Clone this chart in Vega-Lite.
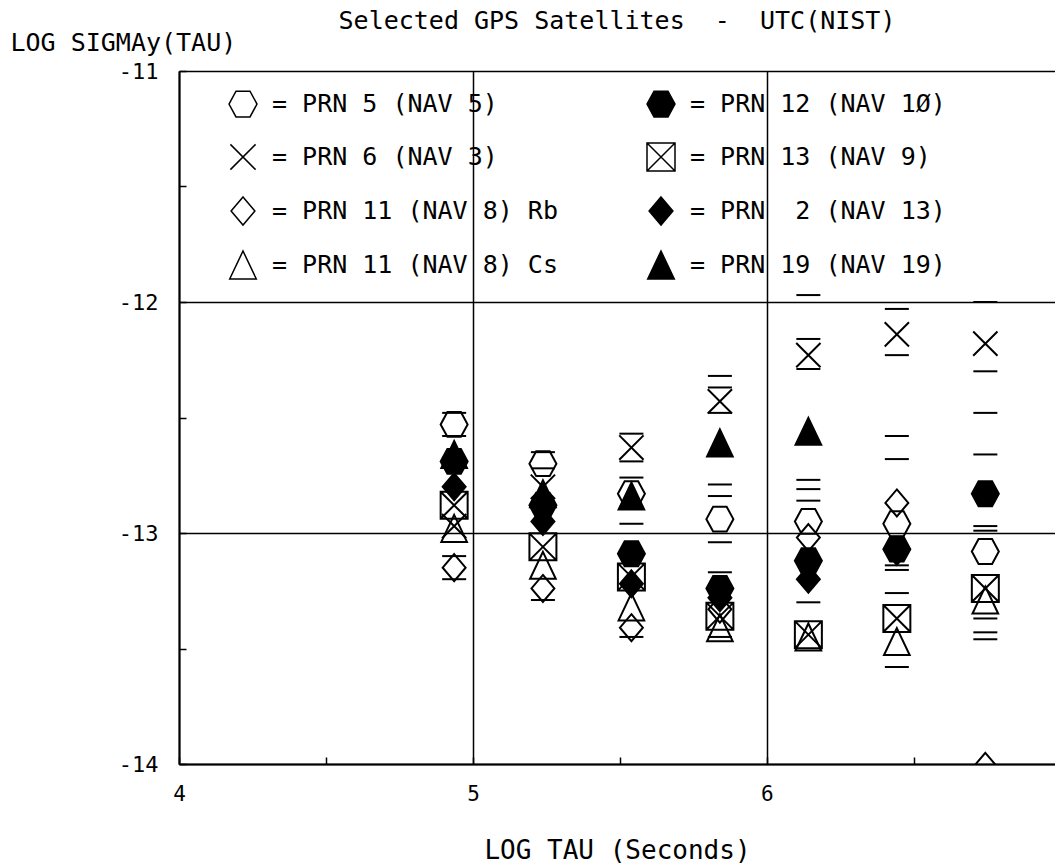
{
  "$schema": "https://vega.github.io/schema/vega-lite/v6.json",
  "width": 876,
  "height": 693,
  "autosize": {"type": "none"},
  "padding": {"left": 179, "top": 71, "right": 0, "bottom": 99},
  "background": "white",
  "title": {
    "text": "Selected GPS Satellites \u00a0-\u00a0 UTC(NIST)",
    "font": "DejaVu Sans Mono",
    "fontSize": 25,
    "fontWeight": "normal",
    "color": "black",
    "anchor": "middle",
    "offset": -4
  },
  "config": {
    "view": {"stroke": null},
    "font": "DejaVu Sans Mono"
  },
  "datasets": {
    "points": [
      {"tau": 4.936, "sigma": -12.53, "sat": "= PRN 5 (NAV 5)"},
      {"tau": 5.238, "sigma": -12.70, "sat": "= PRN 5 (NAV 5)"},
      {"tau": 5.539, "sigma": -12.83, "sat": "= PRN 5 (NAV 5)"},
      {"tau": 5.840, "sigma": -12.94, "sat": "= PRN 5 (NAV 5)"},
      {"tau": 6.141, "sigma": -12.95, "sat": "= PRN 5 (NAV 5)"},
      {"tau": 6.442, "sigma": -12.96, "sat": "= PRN 5 (NAV 5)"},
      {"tau": 6.743, "sigma": -13.08, "sat": "= PRN 5 (NAV 5)"},
      {"tau": 4.936, "sigma": -12.97, "sat": "= PRN 6 (NAV 3)"},
      {"tau": 5.238, "sigma": -12.80, "sat": "= PRN 6 (NAV 3)"},
      {"tau": 5.539, "sigma": -12.63, "sat": "= PRN 6 (NAV 3)"},
      {"tau": 5.840, "sigma": -12.43, "sat": "= PRN 6 (NAV 3)"},
      {"tau": 6.141, "sigma": -12.23, "sat": "= PRN 6 (NAV 3)"},
      {"tau": 6.442, "sigma": -12.14, "sat": "= PRN 6 (NAV 3)"},
      {"tau": 6.743, "sigma": -12.18, "sat": "= PRN 6 (NAV 3)"},
      {"tau": 4.936, "sigma": -13.15, "sat": "= PRN 11 (NAV 8) Rb"},
      {"tau": 5.238, "sigma": -13.24, "sat": "= PRN 11 (NAV 8) Rb"},
      {"tau": 5.539, "sigma": -13.41, "sat": "= PRN 11 (NAV 8) Rb"},
      {"tau": 5.840, "sigma": -13.33, "sat": "= PRN 11 (NAV 8) Rb"},
      {"tau": 6.141, "sigma": -13.02, "sat": "= PRN 11 (NAV 8) Rb"},
      {"tau": 6.442, "sigma": -12.87, "sat": "= PRN 11 (NAV 8) Rb"},
      {"tau": 6.743, "sigma": -14.01, "sat": "= PRN 11 (NAV 8) Rb"},
      {"tau": 4.936, "sigma": -12.98, "sat": "= PRN 11 (NAV 8) Cs"},
      {"tau": 5.238, "sigma": -13.14, "sat": "= PRN 11 (NAV 8) Cs"},
      {"tau": 5.539, "sigma": -13.32, "sat": "= PRN 11 (NAV 8) Cs"},
      {"tau": 5.840, "sigma": -13.41, "sat": "= PRN 11 (NAV 8) Cs"},
      {"tau": 6.141, "sigma": -13.45, "sat": "= PRN 11 (NAV 8) Cs"},
      {"tau": 6.442, "sigma": -13.47, "sat": "= PRN 11 (NAV 8) Cs"},
      {"tau": 6.743, "sigma": -13.29, "sat": "= PRN 11 (NAV 8) Cs"},
      {"tau": 4.936, "sigma": -12.69, "sat": "= PRN 12 (NAV 1Ø)"},
      {"tau": 5.238, "sigma": -12.88, "sat": "= PRN 12 (NAV 1Ø)"},
      {"tau": 5.539, "sigma": -13.09, "sat": "= PRN 12 (NAV 1Ø)"},
      {"tau": 5.840, "sigma": -13.24, "sat": "= PRN 12 (NAV 1Ø)"},
      {"tau": 6.141, "sigma": -13.12, "sat": "= PRN 12 (NAV 1Ø)"},
      {"tau": 6.442, "sigma": -13.07, "sat": "= PRN 12 (NAV 1Ø)"},
      {"tau": 6.743, "sigma": -12.83, "sat": "= PRN 12 (NAV 1Ø)"},
      {"tau": 4.936, "sigma": -12.88, "sat": "= PRN 13 (NAV 9)"},
      {"tau": 5.238, "sigma": -13.06, "sat": "= PRN 13 (NAV 9)"},
      {"tau": 5.539, "sigma": -13.19, "sat": "= PRN 13 (NAV 9)"},
      {"tau": 5.840, "sigma": -13.36, "sat": "= PRN 13 (NAV 9)"},
      {"tau": 6.141, "sigma": -13.44, "sat": "= PRN 13 (NAV 9)"},
      {"tau": 6.442, "sigma": -13.37, "sat": "= PRN 13 (NAV 9)"},
      {"tau": 6.743, "sigma": -13.24, "sat": "= PRN 13 (NAV 9)"},
      {"tau": 4.936, "sigma": -12.80, "sat": "= PRN \u00a02 (NAV 13)"},
      {"tau": 5.238, "sigma": -12.95, "sat": "= PRN \u00a02 (NAV 13)"},
      {"tau": 5.539, "sigma": -13.22, "sat": "= PRN \u00a02 (NAV 13)"},
      {"tau": 5.840, "sigma": -13.28, "sat": "= PRN \u00a02 (NAV 13)"},
      {"tau": 6.141, "sigma": -13.20, "sat": "= PRN \u00a02 (NAV 13)"},
      {"tau": 6.442, "sigma": -13.08, "sat": "= PRN \u00a02 (NAV 13)"},
      {"tau": 4.936, "sigma": -12.66, "sat": "= PRN 19 (NAV 19)"},
      {"tau": 5.238, "sigma": -12.83, "sat": "= PRN 19 (NAV 19)"},
      {"tau": 5.539, "sigma": -12.84, "sat": "= PRN 19 (NAV 19)"},
      {"tau": 5.840, "sigma": -12.61, "sat": "= PRN 19 (NAV 19)"},
      {"tau": 6.141, "sigma": -12.56, "sat": "= PRN 19 (NAV 19)"}
    ],
    "errbars": [
      {"tau": 4.936, "sigma": -12.48}, {"tau": 4.936, "sigma": -12.58},
      {"tau": 4.936, "sigma": -13.10}, {"tau": 4.936, "sigma": -13.20},
      {"tau": 5.238, "sigma": -12.65}, {"tau": 5.238, "sigma": -12.72},
      {"tau": 5.238, "sigma": -13.29},
      {"tau": 5.539, "sigma": -12.57}, {"tau": 5.539, "sigma": -12.69},
      {"tau": 5.539, "sigma": -12.76}, {"tau": 5.539, "sigma": -12.96},
      {"tau": 5.539, "sigma": -13.45},
      {"tau": 5.840, "sigma": -12.32}, {"tau": 5.840, "sigma": -12.37},
      {"tau": 5.840, "sigma": -12.48}, {"tau": 5.840, "sigma": -12.79},
      {"tau": 5.840, "sigma": -12.84}, {"tau": 5.840, "sigma": -13.04},
      {"tau": 5.840, "sigma": -13.17}, {"tau": 5.840, "sigma": -13.45},
      {"tau": 6.141, "sigma": -11.97}, {"tau": 6.141, "sigma": -12.16},
      {"tau": 6.141, "sigma": -12.29}, {"tau": 6.141, "sigma": -12.77},
      {"tau": 6.141, "sigma": -12.81}, {"tau": 6.141, "sigma": -12.86},
      {"tau": 6.141, "sigma": -13.30},
      {"tau": 6.442, "sigma": -12.03}, {"tau": 6.442, "sigma": -12.23},
      {"tau": 6.442, "sigma": -12.58}, {"tau": 6.442, "sigma": -12.68},
      {"tau": 6.442, "sigma": -13.14}, {"tau": 6.442, "sigma": -13.16},
      {"tau": 6.442, "sigma": -13.26}, {"tau": 6.442, "sigma": -13.58},
      {"tau": 6.743, "sigma": -12.00}, {"tau": 6.743, "sigma": -12.30},
      {"tau": 6.743, "sigma": -12.48}, {"tau": 6.743, "sigma": -12.66},
      {"tau": 6.743, "sigma": -12.97}, {"tau": 6.743, "sigma": -12.99},
      {"tau": 6.743, "sigma": -13.37}, {"tau": 6.743, "sigma": -13.43},
      {"tau": 6.743, "sigma": -13.46}
    ]
  },
  "encoding": {
    "x": {
      "field": "tau",
      "type": "quantitative",
      "scale": {"domain": [4, 6.98], "nice": false, "zero": false},
      "axis": {
        "title": "LOG TAU (Seconds)",
        "titleFont": "DejaVu Sans Mono",
        "titleFontSize": 26,
        "titleFontWeight": "normal",
        "titleColor": "black",
        "titleY": 86,
        "titleBaseline": "middle",
        "values": [4, 4.5, 5, 5.5, 6, 6.5],
        "labelExpr": "datum.value % 1 == 0 ? format(datum.value, 'd') : ''",
        "labelFont": "DejaVu Sans Mono",
        "labelFontSize": 21,
        "labelColor": "black",
        "labelPadding": 26,
        "labelFlush": false,
        "tickSize": -7,
        "tickColor": "black",
        "tickWidth": 1.5,
        "domainColor": "black",
        "domainWidth": 2,
        "grid": true,
        "gridColor": "black",
        "gridWidth": 1.5,
        "gridOpacity": {"condition": {"test": "datum.value % 1 != 0", "value": 0}, "value": 1}
      }
    },
    "y": {
      "field": "sigma",
      "type": "quantitative",
      "scale": {"domain": [-14, -11], "nice": false, "zero": false},
      "axis": {
        "title": "LOG SIGMAy(TAU)",
        "titleFont": "DejaVu Sans Mono",
        "titleFontSize": 25,
        "titleFontWeight": "normal",
        "titleColor": "black",
        "titleAngle": 0,
        "titleAlign": "left",
        "titleBaseline": "middle",
        "titleX": -169,
        "titleY": -29,
        "values": [-14, -13.5, -13, -12.5, -12, -11.5, -11],
        "labelExpr": "datum.value % 1 == 0 ? '-' + format(-datum.value, 'd') : ''",
        "labelFont": "DejaVu Sans Mono",
        "labelFontSize": 22,
        "labelColor": "black",
        "labelPadding": 28,
        "labelFlush": false,
        "tickSize": -7,
        "tickColor": "black",
        "tickWidth": 1.5,
        "domainColor": "black",
        "domainWidth": 2,
        "grid": true,
        "gridColor": "black",
        "gridWidth": 1.5,
        "gridOpacity": {"condition": {"test": "datum.value % 1 != 0", "value": 0}, "value": 1}
      }
    }
  },
  "layer": [
    {
      "data": {"name": "errbars"},
      "mark": {"type": "tick", "orient": "horizontal", "size": 24, "thickness": 2, "color": "black", "opacity": 1}
    },
    {
      "data": {"name": "points"},
      "mark": {"type": "point", "filled": true, "stroke": "black", "strokeWidth": 2, "opacity": 1, "size": 729, "clip": true},
      "encoding": {
        "shape": {
          "field": "sat",
          "type": "nominal",
          "scale": {
            "domain": ["= PRN 5 (NAV 5)", "= PRN 6 (NAV 3)", "= PRN 11 (NAV 8) Rb", "= PRN 11 (NAV 8) Cs", "= PRN 12 (NAV 1Ø)", "= PRN 13 (NAV 9)", "= PRN \u00a02 (NAV 13)", "= PRN 19 (NAV 19)"],
            "range": [
              "M-1,0L-0.5,-0.92L0.5,-0.92L1,0L0.5,0.92L-0.5,0.92Z",
              "M-0.9,-0.9L0.9,0.9M-0.9,0.9L0.9,-0.9",
              "M0,-1L0.85,0L0,1L-0.85,0Z",
              "M0,-1L0.95,1L-0.95,1Z",
              "M-1,0L-0.5,-0.92L0.5,-0.92L1,0L0.5,0.92L-0.5,0.92Z",
              "M-1,-1L1,-1L1,1L-1,1ZM-1,-1L1,1M-1,1L1,-1",
              "M0,-1L0.85,0L0,1L-0.85,0Z",
              "M0,-1L0.95,1L-0.95,1Z"
            ]
          },
          "legend": {
            "title": null,
            "orient": "none",
            "legendX": 49,
            "legendY": 18,
            "columns": 2,
            "columnPadding": 86,
            "rowPadding": 20,
            "symbolSize": 784,
            "labelFont": "DejaVu Sans Mono",
            "labelFontSize": 25,
            "labelColor": "black",
            "labelLimit": 500,
            "labelOffset": 14,
            "encode": {
              "symbols": {
                "update": {
                  "stroke": {"value": "black"},
                  "strokeWidth": {"value": 2},
                  "opacity": {"value": 1}
                }
              }
            }
          }
        },
        "fill": {
          "field": "sat",
          "type": "nominal",
          "scale": {
            "domain": ["= PRN 5 (NAV 5)", "= PRN 6 (NAV 3)", "= PRN 11 (NAV 8) Rb", "= PRN 11 (NAV 8) Cs", "= PRN 12 (NAV 1Ø)", "= PRN 13 (NAV 9)", "= PRN \u00a02 (NAV 13)", "= PRN 19 (NAV 19)"],
            "range": ["transparent", "transparent", "transparent", "transparent", "black", "transparent", "black", "black"]
          },
          "legend": {
            "title": null,
            "orient": "none",
            "legendX": 49,
            "legendY": 18,
            "columns": 2,
            "columnPadding": 86,
            "rowPadding": 20,
            "symbolSize": 784,
            "labelFont": "DejaVu Sans Mono",
            "labelFontSize": 25,
            "labelColor": "black",
            "labelLimit": 500,
            "labelOffset": 14,
            "encode": {
              "symbols": {
                "update": {
                  "stroke": {"value": "black"},
                  "strokeWidth": {"value": 2},
                  "opacity": {"value": 1}
                }
              }
            }
          }
        }
      }
    }
  ]
}
